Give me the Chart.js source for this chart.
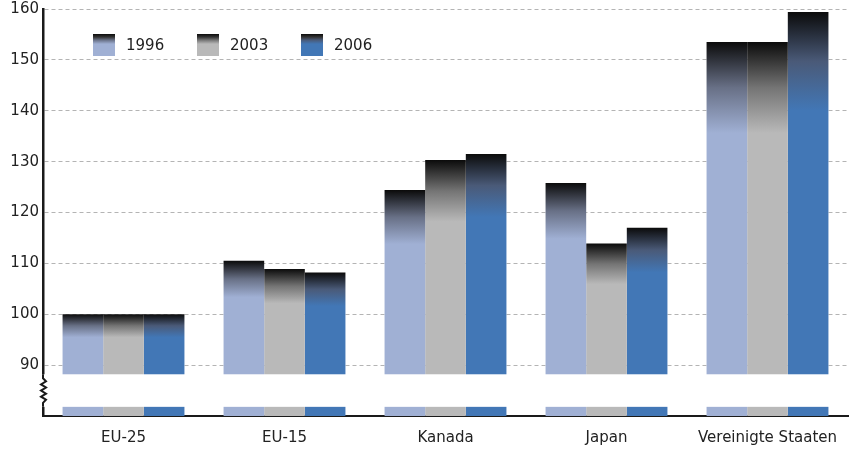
<!DOCTYPE html>
<html>
<head>
<meta charset="utf-8">
<script src="https://cdn.jsdelivr.net/npm/chart.js@4.4.1/dist/chart.umd.min.js"></script>
<style>
  html, body { margin: 0; padding: 0; background: #fff; }
  #wrap { width: 859px; height: 450px; }
</style>
</head>
<body>
<div id="wrap"><canvas id="chart" width="859" height="450"></canvas></div>
<script>
const categories = ['EU-25', 'EU-15', 'Kanada', 'Japan', 'Vereinigte Staaten'];
const years = ['1996', '2003', '2006'];
const values1996 = [100, 110.5, 124.4, 125.8, 153.5];
const values2003 = [100, 108.9, 130.3, 113.9, 153.5];
const values2006 = [100, 108.2, 131.5, 117.0, 159.4];
const yTicks = [80, 90, 100, 110, 120, 130, 140, 150, 160];

// axis break: bars are cut between these two values
const breakHigh = 88.2;
const breakLow = 81.8;

const baseColors = ['#a0b0d4', '#b9b9b9', '#4277b6'];
const midColors = ['#687086', '#747474', '#4a5a78'];
const FONT = '"DejaVu Sans", Verdana, sans-serif';

function barGradient(i) {
  return (ctx) => {
    const chart = ctx.chart;
    if (!chart.chartArea || ctx.raw == null) return baseColors[i];
    const y = chart.scales.y;
    const top = y.getPixelForValue(ctx.raw);
    const bot = y.getPixelForValue(breakHigh);
    const len = Math.max(10, 0.25 * (bot - top) + 8);
    const g = chart.ctx.createLinearGradient(0, top, 0, top + len);
    g.addColorStop(0, '#0b0b0b');
    g.addColorStop(0.5, midColors[i]);
    g.addColorStop(1, baseColors[i]);
    return g;
  };
}

const axisBreak = {
  id: 'axisBreak',
  afterDatasetsDraw(chart) {
    const { ctx, chartArea } = chart;
    const y = chart.scales.y;
    const yTop = y.getPixelForValue(breakHigh);
    const yBot = y.getPixelForValue(breakLow);
    const left = chartArea.left;
    ctx.save();
    ctx.fillStyle = '#fff';
    ctx.fillRect(left - 4, yTop, chartArea.right - left + 6, yBot - yTop);
    ctx.strokeStyle = '#1a1a1a';
    ctx.lineWidth = 2;
    ctx.beginPath();
    ctx.moveTo(left, yTop);
    ctx.lineTo(left, yTop + 4);
    const steps = 8;
    const h = (yBot - yTop - 8) / steps;
    for (let k = 1; k <= steps; k++) {
      const dx = k === steps ? 0 : (k % 2 ? 3 : -2);
      ctx.lineTo(left + dx, yTop + 4 + k * h);
    }
    ctx.lineTo(left, yBot);
    ctx.stroke();
    ctx.restore();
  },
};

const insideLegend = {
  id: 'insideLegend',
  afterDraw(chart) {
    const { ctx, chartArea } = chart;
    ctx.save();
    ctx.font = '15px ' + FONT;
    ctx.textBaseline = 'middle';
    ctx.fillStyle = '#222';
    chart.data.datasets.forEach((ds, i) => {
      const x = chartArea.left + 50 + i * 104;
      const yb = chartArea.top + 25;
      const g = ctx.createLinearGradient(0, yb, 0, yb + 10);
      g.addColorStop(0, '#0b0b0b');
      g.addColorStop(0.3, '#333');
      g.addColorStop(0.6, midColors[i]);
      g.addColorStop(1, baseColors[i]);
      ctx.fillStyle = g;
      ctx.fillRect(x, yb, 22, 22);
      ctx.fillStyle = '#222';
      ctx.fillText(ds.label, x + 33, yb + 12);
    });
    ctx.restore();
  },
};

new Chart(document.getElementById('chart'), {
  type: 'bar',
  data: {
    labels: categories,
    datasets: [
      { label: years[0], data: values1996, backgroundColor: barGradient(0) },
      { label: years[1], data: values2003, backgroundColor: barGradient(1) },
      { label: years[2], data: values2006, backgroundColor: barGradient(2) },
    ],
  },
  options: {
    responsive: false,
    animation: false,
    layout: { padding: { top: 9, right: 11, left: 0, bottom: 0 } },
    datasets: { bar: { categoryPercentage: 0.757, barPercentage: 1.0, borderWidth: 0 } },
    plugins: {
      legend: { display: false },
      tooltip: { enabled: false },
    },
    scales: {
      x: {
        grid: { display: false, drawTicks: false },
        border: { display: true, color: '#1a1a1a', width: 2 },
        ticks: { color: '#222', font: { family: FONT, size: 15 }, padding: 13, maxRotation: 0, autoSkip: false },
        afterFit: (s) => { s.height = 34; },
      },
      y: {
        min: yTicks[0],
        max: yTicks[yTicks.length - 1],
        afterBuildTicks: (s) => { s.ticks = yTicks.map(v => ({ value: v })); },
        grid: {
          drawTicks: false,
          color: (c) => (c.tick && c.tick.value === yTicks[0] ? 'rgba(0,0,0,0)' : '#b4b4b4'),
          lineWidth: 1,
        },
        border: { display: true, color: '#1a1a1a', width: 2.5, dash: [4, 3] },
        ticks: {
          color: '#222',
          font: { family: FONT, size: 15 },
          padding: 4,
          callback: (v) => (v === yTicks[0] ? '' : v),
        },
        afterFit: (s) => { s.width = 43; s.paddingTop = 0; s.paddingBottom = 0; },
      },
    },
  },
  plugins: [axisBreak, insideLegend],
});
</script>
</body>
</html>
